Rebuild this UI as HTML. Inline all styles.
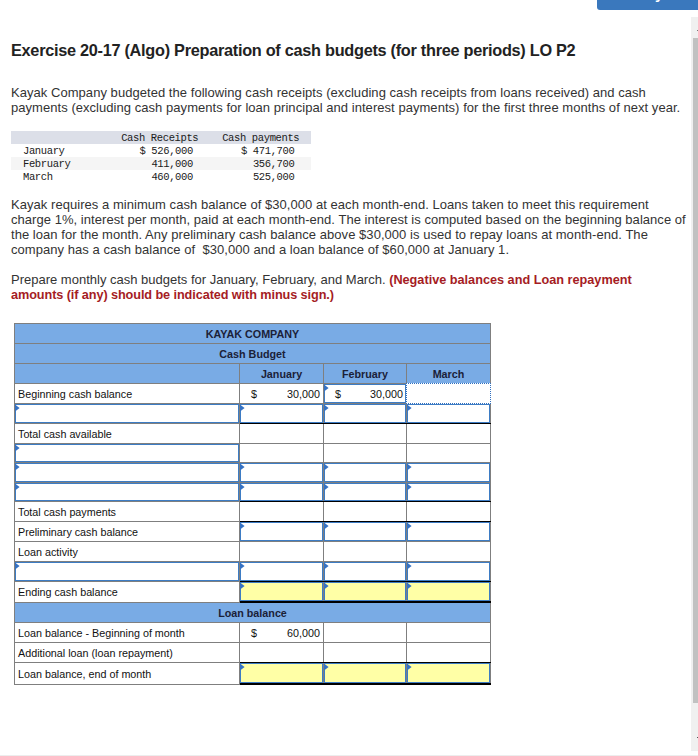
<!DOCTYPE html>
<html><head><meta charset="utf-8"><title>Exercise 20-17</title>
<style>
html,body{margin:0;padding:0;background:#fff;}
body{width:698px;height:756px;position:relative;overflow:hidden;font-family:"Liberation Sans",sans-serif;color:#333;}
div,span{position:absolute;}
.t{white-space:pre;}
.p{font-size:13px;line-height:15px;letter-spacing:0.045px;}
.m{font-family:"Liberation Mono",monospace;font-size:10.5px;line-height:13px;letter-spacing:-0.37px;color:#1a1a1a;}
.c{font-size:10.75px;line-height:19px;color:#111;margin-top:1px;}
.b{font-weight:bold;}
.r{text-align:right;}
.ctr{text-align:center;}
.tri{width:4.6px;height:7px;margin-top:0.4px;background:#3572c4;clip-path:polygon(0 0,100% 50%,0 100%);}
</style></head>
<body>
<div style="left:597px;top:0px;width:101px;height:9.6px;background:#3a78bd;border-radius:0 0 0 3px;"></div>
<div class="t b" style="left:655px;top:-14.4px;font-size:15px;line-height:15px;color:#fff;">y</div>
<div style="left:691px;top:17px;width:7px;height:734px;background:#f0f0f0;"></div>
<div style="left:693px;top:38px;width:5px;height:665px;background:#c1c1c1;"></div>
<div style="left:697px;top:30px;width:1px;height:1px;background:#777;"></div>
<div style="left:697px;top:737px;width:1px;height:1px;background:#555;"></div>
<div style="left:0px;top:755px;width:698px;height:1px;background:#ededed;"></div>
<div class="t b" style="left:11px;top:41.4px;font-size:16.3px;line-height:18px;letter-spacing:-0.28px;color:#222;">Exercise 20-17 (Algo) Preparation of cash budgets (for three periods) LO P2</div>
<div class="t p" style="left:11px;top:85px;">Kayak Company budgeted the following cash receipts (excluding cash receipts from loans received) and cash</div>
<div class="t p" style="left:11px;top:100px;">payments (excluding cash payments for loan principal and interest payments) for the first three months of next year.</div>
<div style="left:11px;top:131px;width:300px;height:13px;background:#dcdfe8;"></div>
<div style="left:11px;top:157px;width:300px;height:13px;background:#f5f5f5;"></div>
<div class="t m" style="left:121.2px;top:132px;">Cash Receipts</div>
<div class="t m" style="left:222.2px;top:132px;">Cash payments</div>
<div class="t m" style="left:23px;top:145px;">January</div>
<div class="t m" style="left:23px;top:158px;">February</div>
<div class="t m" style="left:23px;top:171px;">March</div>
<div class="t m" style="left:139.5px;top:145px;">$ 526,000</div>
<div class="t m" style="left:151.4px;top:158px;">411,000</div>
<div class="t m" style="left:151.4px;top:171px;">460,000</div>
<div class="t m" style="left:241px;top:145px;">$ 471,700</div>
<div class="t m" style="left:252.9px;top:158px;">356,700</div>
<div class="t m" style="left:252.9px;top:171px;">525,000</div>
<div class="t p" style="left:11px;top:197px;">Kayak requires a minimum cash balance of $30,000 at each month-end. Loans taken to meet this requirement</div>
<div class="t p" style="left:11px;top:212px;">charge 1%, interest per month, paid at each month-end. The interest is computed based on the beginning balance of</div>
<div class="t p" style="left:11px;top:227px;">the loan for the month. Any preliminary cash balance above $30,000 is used to repay loans at month-end. The</div>
<div class="t p" style="left:11px;top:242px;">company has a cash balance of  $30,000 and a loan balance of $60,000 at January 1.</div>
<div class="t p" style="left:11px;top:271.5px;letter-spacing:0;">Prepare monthly cash budgets for January, February, and March. <span class="b" style="position:static;color:#a51c24;font-size:12.7px;">(Negative balances and Loan repayment</span></div>
<div class="t p b" style="left:11px;top:287.8px;color:#a51c24;font-size:12.7px;letter-spacing:-0.09px;">amounts (if any) should be indicated with minus sign.)</div>
<div style="left:14px;top:323px;width:477px;height:60px;background:#79abe5;"></div>
<div style="left:14px;top:602px;width:477px;height:20px;background:#79abe5;"></div>
<div style="left:240px;top:582px;width:83px;height:19px;background:#ffffa6;"></div>
<div style="left:324px;top:582px;width:82px;height:19px;background:#ffffa6;"></div>
<div style="left:407px;top:582px;width:83px;height:19px;background:#ffffa6;"></div>
<div style="left:240px;top:663px;width:83px;height:20px;background:#ffffa6;"></div>
<div style="left:324px;top:663px;width:82px;height:20px;background:#ffffa6;"></div>
<div style="left:407px;top:663px;width:83px;height:20px;background:#ffffa6;"></div>
<div style="left:14px;top:323px;width:477px;height:1px;background:#7f7f7f;"></div>
<div style="left:14px;top:343px;width:477px;height:1px;background:#7f7f7f;"></div>
<div style="left:14px;top:363px;width:477px;height:1px;background:#7f7f7f;"></div>
<div style="left:14px;top:383px;width:477px;height:1px;background:#7f7f7f;"></div>
<div style="left:14px;top:403px;width:477px;height:1px;background:#7f7f7f;"></div>
<div style="left:14px;top:423px;width:477px;height:1px;background:#7f7f7f;"></div>
<div style="left:14px;top:443px;width:477px;height:1px;background:#7f7f7f;"></div>
<div style="left:14px;top:462px;width:477px;height:1px;background:#7f7f7f;"></div>
<div style="left:14px;top:482px;width:477px;height:1px;background:#7f7f7f;"></div>
<div style="left:14px;top:501px;width:477px;height:1px;background:#7f7f7f;"></div>
<div style="left:14px;top:521px;width:477px;height:1px;background:#7f7f7f;"></div>
<div style="left:14px;top:541px;width:477px;height:1px;background:#7f7f7f;"></div>
<div style="left:14px;top:561px;width:477px;height:1px;background:#7f7f7f;"></div>
<div style="left:14px;top:581px;width:477px;height:1px;background:#7f7f7f;"></div>
<div style="left:14px;top:602px;width:477px;height:1px;background:#7f7f7f;"></div>
<div style="left:14px;top:622px;width:477px;height:1px;background:#7f7f7f;"></div>
<div style="left:14px;top:642px;width:477px;height:1px;background:#7f7f7f;"></div>
<div style="left:14px;top:662px;width:477px;height:1px;background:#7f7f7f;"></div>
<div style="left:14px;top:684px;width:477px;height:1px;background:#7f7f7f;"></div>
<div style="left:14px;top:323px;width:1px;height:362px;background:#7f7f7f;"></div>
<div style="left:490px;top:323px;width:1px;height:362px;background:#7f7f7f;"></div>
<div style="left:239px;top:363px;width:1px;height:239px;background:#7f7f7f;"></div>
<div style="left:239px;top:622px;width:1px;height:63px;background:#7f7f7f;"></div>
<div style="left:323px;top:363px;width:1px;height:239px;background:#7f7f7f;"></div>
<div style="left:323px;top:622px;width:1px;height:63px;background:#7f7f7f;"></div>
<div style="left:406px;top:363px;width:1px;height:239px;background:#7f7f7f;"></div>
<div style="left:406px;top:622px;width:1px;height:63px;background:#7f7f7f;"></div>
<div style="left:240px;top:423px;width:251px;height:1px;background:#000;"></div>
<div style="left:240px;top:501px;width:251px;height:1px;background:#000;"></div>
<div style="left:240px;top:521px;width:251px;height:1px;background:#000;"></div>
<div style="left:240px;top:581px;width:251px;height:1px;background:#000;"></div>
<div style="left:240px;top:662px;width:251px;height:1px;background:#000;"></div>
<div style="left:240px;top:601px;width:251px;height:2px;background:#000;"></div>
<div style="left:240px;top:683px;width:251px;height:2px;background:#000;"></div>
<div style="left:15px;top:404px;width:222px;height:17px;border:1px solid #3d7cc4;"></div>
<div class="tri" style="left:15px;top:404px;"></div>
<div style="left:240px;top:404px;width:81px;height:17px;border:1px solid #3d7cc4;"></div>
<div class="tri" style="left:240px;top:404px;"></div>
<div style="left:324px;top:404px;width:80px;height:17px;border:1px solid #3d7cc4;"></div>
<div class="tri" style="left:324px;top:404px;"></div>
<div style="left:407px;top:404px;width:81px;height:17px;border:1px solid #3d7cc4;"></div>
<div class="tri" style="left:407px;top:404px;"></div>
<div style="left:15px;top:463px;width:222px;height:17px;border:1px solid #3d7cc4;"></div>
<div class="tri" style="left:15px;top:463px;"></div>
<div style="left:240px;top:463px;width:81px;height:17px;border:1px solid #3d7cc4;"></div>
<div class="tri" style="left:240px;top:463px;"></div>
<div style="left:324px;top:463px;width:80px;height:17px;border:1px solid #3d7cc4;"></div>
<div class="tri" style="left:324px;top:463px;"></div>
<div style="left:407px;top:463px;width:81px;height:17px;border:1px solid #3d7cc4;"></div>
<div class="tri" style="left:407px;top:463px;"></div>
<div style="left:15px;top:483px;width:222px;height:16px;border:1px solid #3d7cc4;"></div>
<div class="tri" style="left:15px;top:483px;"></div>
<div style="left:240px;top:483px;width:81px;height:16px;border:1px solid #3d7cc4;"></div>
<div class="tri" style="left:240px;top:483px;"></div>
<div style="left:324px;top:483px;width:80px;height:16px;border:1px solid #3d7cc4;"></div>
<div class="tri" style="left:324px;top:483px;"></div>
<div style="left:407px;top:483px;width:81px;height:16px;border:1px solid #3d7cc4;"></div>
<div class="tri" style="left:407px;top:483px;"></div>
<div style="left:15px;top:562px;width:222px;height:17px;border:1px solid #3d7cc4;"></div>
<div class="tri" style="left:15px;top:562px;"></div>
<div style="left:240px;top:562px;width:81px;height:17px;border:1px solid #3d7cc4;"></div>
<div class="tri" style="left:240px;top:562px;"></div>
<div style="left:324px;top:562px;width:80px;height:17px;border:1px solid #3d7cc4;"></div>
<div class="tri" style="left:324px;top:562px;"></div>
<div style="left:407px;top:562px;width:81px;height:17px;border:1px solid #3d7cc4;"></div>
<div class="tri" style="left:407px;top:562px;"></div>
<div style="left:15px;top:444px;width:222px;height:16px;border:1px solid #3d7cc4;"></div>
<div class="tri" style="left:15px;top:444px;"></div>
<div style="left:240px;top:522px;width:81px;height:17px;border:1px solid #3d7cc4;"></div>
<div class="tri" style="left:240px;top:522px;"></div>
<div style="left:240px;top:582px;width:81px;height:17px;border:1px solid #3d7cc4;"></div>
<div class="tri" style="left:240px;top:582px;"></div>
<div style="left:240px;top:663px;width:81px;height:18px;border:1px solid #3d7cc4;"></div>
<div class="tri" style="left:240px;top:663px;"></div>
<div style="left:324px;top:522px;width:80px;height:17px;border:1px solid #3d7cc4;"></div>
<div class="tri" style="left:324px;top:522px;"></div>
<div style="left:324px;top:582px;width:80px;height:17px;border:1px solid #3d7cc4;"></div>
<div class="tri" style="left:324px;top:582px;"></div>
<div style="left:324px;top:663px;width:80px;height:18px;border:1px solid #3d7cc4;"></div>
<div class="tri" style="left:324px;top:663px;"></div>
<div style="left:407px;top:522px;width:81px;height:17px;border:1px solid #3d7cc4;"></div>
<div class="tri" style="left:407px;top:522px;"></div>
<div style="left:407px;top:582px;width:81px;height:17px;border:1px solid #3d7cc4;"></div>
<div class="tri" style="left:407px;top:582px;"></div>
<div style="left:407px;top:663px;width:81px;height:18px;border:1px solid #3d7cc4;"></div>
<div class="tri" style="left:407px;top:663px;"></div>
<div style="left:324px;top:384px;width:80px;height:17px;border:1px solid #3d7cc4;"></div>
<div class="tri" style="left:324px;top:384px;"></div>
<div style="left:406px;top:383px;width:83px;height:19px;border:1px dotted #2f6fc0;background:#fff;"></div>
<div class="t c b ctr" style="left:14px;top:324px;width:477px;color:#1b2138;">KAYAK COMPANY</div>
<div class="t c b ctr" style="left:14px;top:344px;width:477px;color:#1b2138;">Cash Budget</div>
<div class="t c b ctr" style="left:14px;top:603px;width:477px;color:#1b2138;">Loan balance</div>
<div class="t c b ctr" style="left:240px;top:364px;width:83px;color:#1b2138;">January</div>
<div class="t c b ctr" style="left:324px;top:364px;width:82px;color:#1b2138;">February</div>
<div class="t c b ctr" style="left:407px;top:364px;width:83px;color:#1b2138;">March</div>
<div class="t c " style="left:18px;top:384px;width:224px;">Beginning cash balance</div>
<div class="t c " style="left:18px;top:424px;width:224px;">Total cash available</div>
<div class="t c " style="left:18px;top:502px;width:224px;">Total cash payments</div>
<div class="t c " style="left:18px;top:522px;width:224px;">Preliminary cash balance</div>
<div class="t c " style="left:18px;top:542px;width:224px;">Loan activity</div>
<div class="t c " style="left:18px;top:582px;width:224px;">Ending cash balance</div>
<div class="t c " style="left:18px;top:623px;width:224px;">Loan balance - Beginning of month</div>
<div class="t c " style="left:18px;top:643px;width:224px;">Additional loan (loan repayment)</div>
<div class="t c " style="left:18px;top:664px;width:224px;">Loan balance, end of month</div>
<div class="t c" style="left:251px;top:384px;">$</div>
<div class="t c r" style="left:240px;top:384px;width:80px;">30,000</div>
<div class="t c" style="left:335px;top:384px;">$</div>
<div class="t c r" style="left:324px;top:384px;width:79px;">30,000</div>
<div class="t c" style="left:251px;top:623px;">$</div>
<div class="t c r" style="left:240px;top:623px;width:80px;">60,000</div>
</body></html>
